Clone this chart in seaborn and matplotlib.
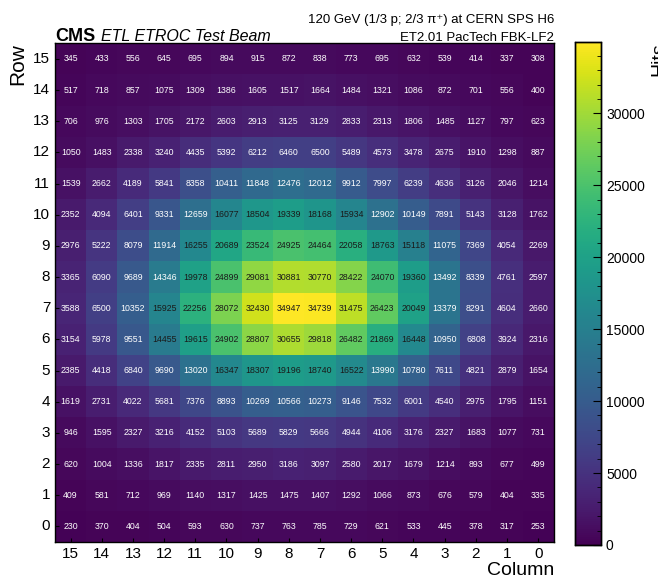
import numpy as np
import pandas as pd
import matplotlib.pyplot as plt
import seaborn as sns
from matplotlib.ticker import MultipleLocator

# Dados: linhas de cima (15) para baixo (0), colunas de 15 a 0
rows = list(range(15, -1, -1))
columns = list(range(15, -1, -1))

hits = [
    [345, 433, 556, 645, 695, 894, 915, 872, 838, 773, 695, 632, 539, 414, 337, 308],
    [517, 718, 857, 1075, 1309, 1386, 1605, 1517, 1664, 1484, 1321, 1086, 872, 701, 556, 400],
    [706, 976, 1303, 1705, 2172, 2603, 2913, 3125, 3129, 2833, 2313, 1806, 1485, 1127, 797, 623],
    [1050, 1483, 2338, 3240, 4435, 5392, 6212, 6460, 6500, 5489, 4573, 3478, 2675, 1910, 1298, 887],
    [1539, 2662, 4189, 5841, 8358, 10411, 11848, 12476, 12012, 9912, 7997, 6239, 4636, 3126, 2046, 1214],
    [2352, 4094, 6401, 9331, 12659, 16077, 18504, 19339, 18168, 15934, 12902, 10149, 7891, 5143, 3128, 1762],
    [2976, 5222, 8079, 11914, 16255, 20689, 23524, 24925, 24464, 22058, 18763, 15118, 11075, 7369, 4054, 2269],
    [3365, 6090, 9689, 14346, 19978, 24899, 29081, 30881, 30770, 28422, 24070, 19360, 13492, 8339, 4761, 2597],
    [3588, 6500, 10352, 15925, 22256, 28072, 32430, 34947, 34739, 31475, 26423, 20049, 13379, 8291, 4604, 2660],
    [3154, 5978, 9551, 14455, 19615, 24902, 28807, 30655, 29818, 26482, 21869, 16448, 10950, 6808, 3924, 2316],
    [2385, 4418, 6840, 9690, 13020, 16347, 18307, 19196, 18740, 16522, 13990, 10780, 7611, 4821, 2879, 1654],
    [1619, 2731, 4022, 5681, 7376, 8893, 10269, 10566, 10273, 9146, 7532, 6001, 4540, 2975, 1795, 1151],
    [946, 1595, 2327, 3216, 4152, 5103, 5689, 5829, 5666, 4944, 4106, 3176, 2327, 1683, 1077, 731],
    [620, 1004, 1336, 1817, 2335, 2811, 2950, 3186, 3097, 2580, 2017, 1679, 1214, 893, 677, 499],
    [409, 581, 712, 969, 1140, 1317, 1425, 1475, 1407, 1292, 1066, 873, 676, 579, 404, 335],
    [230, 370, 404, 504, 593, 630, 737, 763, 785, 729, 621, 533, 445, 378, 317, 253],
]

df = pd.DataFrame(hits, index=rows, columns=columns)

plt.rcParams['font.family'] = ['Liberation Sans', 'DejaVu Sans']

fig = plt.figure(figsize=(6.58, 5.82), dpi=100)
ax = fig.add_axes([0.0836, 0.0687, 0.758, 0.857])
cax = fig.add_axes([0.874, 0.0636, 0.0395, 0.864])

sns.heatmap(df, ax=ax, cbar_ax=cax, cmap='viridis', vmin=0, vmax=df.values.max(),
            annot=True, fmt='d', annot_kws={'fontsize': 6.3})

# cor do texto: escuro nas células claras
for t in ax.texts:
    t.set_color('#1a1a1a' if int(t.get_text()) > 14400 else 'white')

ax.set_xlabel('Column', fontsize=14, loc='right', labelpad=1)
ax.set_ylabel('Row', fontsize=15, loc='top')
ax.tick_params(axis='both', labelsize=11, direction='in', length=3)
ax.tick_params(axis='y', rotation=0)
for s in ax.spines.values():
    s.set_visible(True)
    s.set_linewidth(1)

cax.yaxis.set_minor_locator(MultipleLocator(1000))
cax.tick_params(which='both', direction='in', labelsize=10)
cax.tick_params(which='major', length=6)
cax.tick_params(which='minor', length=3)
cax.set_ylabel('Hits', fontsize=14, loc='top')
for s in cax.spines.values():
    s.set_visible(True)
    s.set_linewidth(1)

# Cabeçalho estilo CMS
fig.text(0.0836, 0.9296, 'CMS', fontsize=13, fontweight='bold', va='baseline')
fig.text(0.153, 0.9296, 'ETL ETROC Test Beam', fontsize=11.5, style='italic', va='baseline')
fig.text(0.842, 0.960, '120 GeV (1/3 p; 2/3 \u03c0\u207a) at CERN SPS H6', fontsize=9.5,
         ha='right', va='baseline')
fig.text(0.842, 0.9296, 'ET2.01 PacTech FBK-LF2', fontsize=9.5, ha='right', va='baseline')

fig.savefig('out.png', dpi=100)
